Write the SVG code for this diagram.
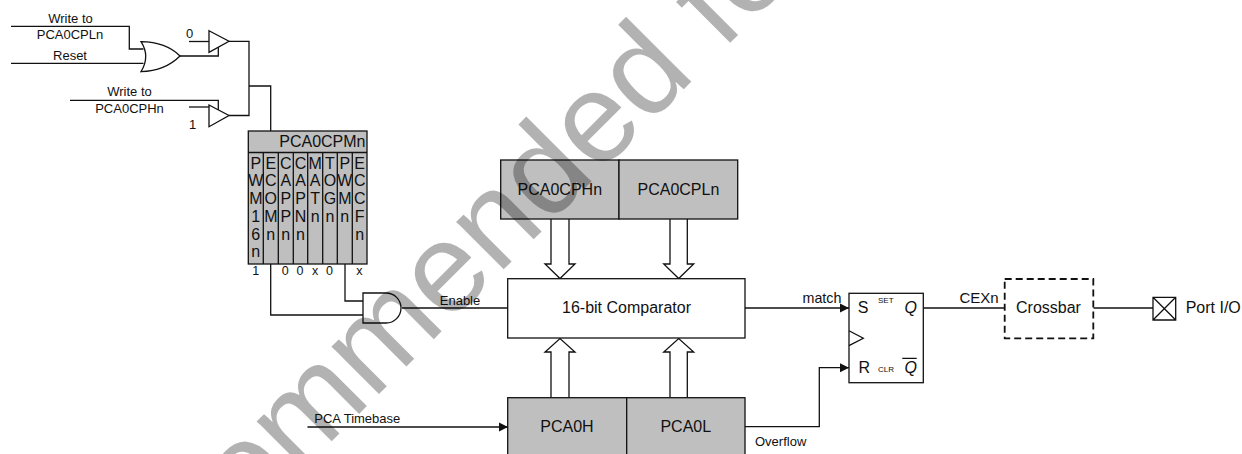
<svg xmlns="http://www.w3.org/2000/svg" width="1242" height="454" viewBox="0 0 1242 454">
<style>
text{font-family:"Liberation Sans",Arial,sans-serif;fill:#111}
.m{text-anchor:middle}
.s{font-size:13px}
.l{font-size:16px}
.c{font-size:16px;text-anchor:middle}
.v{font-size:12.5px;text-anchor:middle}
.t{font-size:8px}
.i{font-style:italic}
.b{fill:#bfbfbf;stroke:#111;stroke-width:1.3}
.w{fill:#fff;stroke:#111;stroke-width:1.3}
.n{fill:none;stroke:#111;stroke-width:1.3}
.wm{font-size:127px;fill:#000;fill-opacity:.3}
</style>
<defs>
<marker id="a" markerUnits="userSpaceOnUse" markerWidth="10" markerHeight="10" refX="9" refY="5" orient="auto"><path d="M0,0.5L9,5L0,9.5Z" fill="#111"/></marker>
</defs>
<g id="connectors" class="n">
<path d="M11,26.3H129.3V49H143.5"/>
<path d="M11,63.3H143.5"/>
<path d="M180,56H218.3V47"/>
<path d="M189,41.5H209"/>
<path d="M229,41.3H249V115.5H229"/>
<path d="M249,86H270.7V152" marker-end="url(#a)"/>
<path d="M70,100.3H218.3V110"/>
<path d="M189,107H209"/>
<path d="M270.7,264V315H363"/>
<path d="M345,264V301H363"/>
<path d="M402,308H508"/>
<path d="M745,308H849" marker-end="url(#a)"/>
<path d="M745,426.7H819.3V367.7H849" marker-end="url(#a)"/>
<path d="M923.3,308H1005"/>
<path d="M1093.3,308H1153"/>
<path d="M307.5,427H508" marker-end="url(#a)"/>
<path d="M551,219V264H545L560,278.5L575,264H569V219"/>
<path d="M670,219V264H663.7L678.7,278.5L693.7,264H687.3V219"/>
<path d="M551,397.5V352H545L560,338.5L575,352H569V397.5"/>
<path d="M670,397.5V352H663.7L678.7,338.5L693.7,352H687.3V397.5"/>
</g>
<g id="or-gate"><path class="w" d="M141,41.7C160,42 172,48 180,56C172,64 160,71 141,71.7C147,62 147,51 141,41.7Z"/></g>
<g id="buffer-0"><path class="w" d="M209,30.7L229,41.3L209,52.3Z"/><text class="s" x="186" y="37.7">0</text></g>
<g id="buffer-1"><path class="w" d="M209,105L229,115.5L209,126.7Z"/><text class="s" x="189" y="129">1</text></g>
<g id="write-l"><text class="s m" x="70.5" y="22.7">Write to</text><text class="s m" x="70" y="39">PCA0CPLn</text><text class="s m" x="70" y="60">Reset</text></g>
<g id="write-h"><text class="s m" x="129.5" y="96">Write to</text><text class="s m" x="129.5" y="112.7">PCA0CPHn</text></g>
<g id="pca0cpmn">
<rect class="b" x="248.3" y="131" width="118.7" height="133"/>
<path class="n" d="M248.3,152.5H367M263.3,152.5V264M278.3,152.5V264M293.3,152.5V264M307.7,152.5V264M322.7,152.5V264M337.3,152.5V264M352.3,152.5V264"/>
<text class="l" x="365.5" y="147" text-anchor="end">PCA0CPMn</text>
<text class="c"><tspan x="255.8" y="168.5">P</tspan><tspan x="255.8" y="186">W</tspan><tspan x="255.8" y="203.5">M</tspan><tspan x="255.8" y="221.5">1</tspan><tspan x="255.8" y="239.5">6</tspan><tspan x="255.8" y="257">n</tspan></text>
<text class="c"><tspan x="270.8" y="168.5">E</tspan><tspan x="270.8" y="186">C</tspan><tspan x="270.8" y="203.5">O</tspan><tspan x="270.8" y="221.5">M</tspan><tspan x="270.8" y="239.5">n</tspan></text>
<text class="c"><tspan x="285.8" y="168.5">C</tspan><tspan x="285.8" y="186">A</tspan><tspan x="285.8" y="203.5">P</tspan><tspan x="285.8" y="221.5">P</tspan><tspan x="285.8" y="239.5">n</tspan></text>
<text class="c"><tspan x="300.5" y="168.5">C</tspan><tspan x="300.5" y="186">A</tspan><tspan x="300.5" y="203.5">P</tspan><tspan x="300.5" y="221.5">N</tspan><tspan x="300.5" y="239.5">n</tspan></text>
<text class="c"><tspan x="315.2" y="168.5">M</tspan><tspan x="315.2" y="186">A</tspan><tspan x="315.2" y="203.5">T</tspan><tspan x="315.2" y="221.5">n</tspan></text>
<text class="c"><tspan x="330" y="168.5">T</tspan><tspan x="330" y="186">O</tspan><tspan x="330" y="203.5">G</tspan><tspan x="330" y="221.5">n</tspan></text>
<text class="c"><tspan x="344.8" y="168.5">P</tspan><tspan x="344.8" y="186">W</tspan><tspan x="344.8" y="203.5">M</tspan><tspan x="344.8" y="221.5">n</tspan></text>
<text class="c"><tspan x="359.7" y="168.5">E</tspan><tspan x="359.7" y="186">C</tspan><tspan x="359.7" y="203.5">C</tspan><tspan x="359.7" y="221.5">F</tspan><tspan x="359.7" y="239.5">n</tspan></text>
<text class="v" x="255.7" y="275">1</text><text class="v" x="285.3" y="275">0</text><text class="v" x="300" y="275">0</text><text class="v" x="315" y="275">x</text><text class="v" x="329.5" y="275">0</text><text class="v" x="359.3" y="275">x</text>
</g>
<g id="and-gate"><path class="w" d="M363,293H386A15,15 0 0 1 386,323H363Z"/><text class="s m" x="460" y="305">Enable</text></g>
<g id="pca0cphn"><rect class="b" x="500.7" y="160" width="118.3" height="59"/><text class="c" x="559.8" y="194.7">PCA0CPHn</text></g>
<g id="pca0cpln"><rect class="b" x="619" y="160" width="118.7" height="59"/><text class="c" x="678.4" y="194.7">PCA0CPLn</text></g>
<g id="comparator"><rect class="w" x="507.7" y="278.7" width="237.3" height="59.3"/><text class="c" x="626.5" y="313">16-bit Comparator</text></g>
<g id="pca0h"><rect class="b" x="507.7" y="397.7" width="119" height="70"/><text class="c" x="567" y="431.7">PCA0H</text></g>
<g id="pca0l"><rect class="b" x="626.7" y="397.7" width="118.3" height="70"/><text class="c" x="685.8" y="431.7">PCA0L</text></g>
<g id="flipflop">
<rect class="w" x="849" y="293.3" width="74.3" height="89.4"/>
<path class="n" d="M849,330.7L863.3,338.3L849,345.7M902.3,358.3H916.7"/>
<text class="l" x="857.8" y="313.3">S</text><text class="t" x="878" y="303.3">SET</text><text class="l i" x="904.5" y="313">Q</text>
<text class="l" x="858.5" y="373.3">R</text><text class="t" x="878" y="372">CLR</text><text class="l i" x="904.5" y="373">Q</text>
</g>
<g id="labels"><text x="314.3" y="422.7" class="s">PCA Timebase</text><text class="s" x="755" y="446">Overflow</text><text x="802.5" y="303" style="font-size:14.3px">match</text><text x="959.5" y="303" style="font-size:15px">CEXn</text></g>
<g id="crossbar"><rect x="1004.7" y="279" width="88.6" height="59.3" fill="#fff" stroke="#111" stroke-width="1.8" stroke-dasharray="7 4"/><text class="l" x="1016" y="312.7">Crossbar</text></g>
<g id="port-io"><path class="w" d="M1153,297.3H1175.7V320H1153ZM1153,297.3L1175.7,320M1175.7,297.3L1153,320"/><text class="l" x="1185.7" y="313">Port I/O</text></g>
<text class="wm" transform="translate(248,525) rotate(-45)">ommended fo</text>
</svg>
